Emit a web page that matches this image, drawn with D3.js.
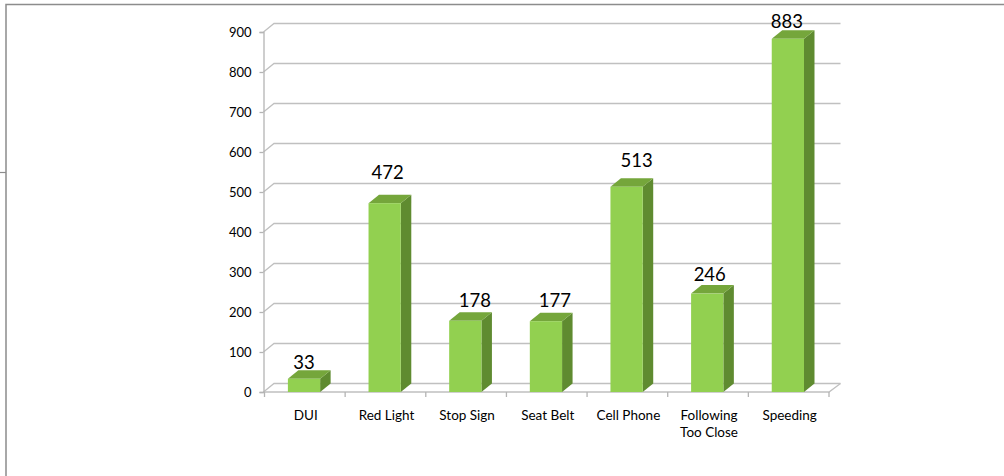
<!DOCTYPE html>
<html>
<head>
<meta charset="utf-8">
<script src="https://cdn.jsdelivr.net/npm/d3@7"></script>
<style>
  html, body { margin: 0; padding: 0; background: #fff; }
  svg { display: block; }
  text { font-family: Lato, "Open Sans", sans-serif; fill: #000; }
</style>
</head>
<body>
<svg id="chart" width="1004" height="476"></svg>
<script>
// ---- data ----
const categories = [["DUI"], ["Red Light"], ["Stop Sign"], ["Seat Belt"], ["Cell Phone"], ["Following", "Too Close"], ["Speeding"]];
const values = [33, 472, 178, 177, 513, 246, 883];
const yTicks = [0, 100, 200, 300, 400, 500, 600, 700, 800, 900];

// ---- layout (label nudges as placed in the original) ----
const labelDx = [0, 3, 9.5, 9, 10, 2.5, -1];
const labelLift = [10, 24.5, 14, 14, 20, 12.6, 11];

const svg = d3.select("#chart");
const depthX = 10.5, depthY = 8.5;
const gridColor = "#c0c0c0";

const y = d3.scaleLinear().domain([0, 900]).range([392, 32]);
const x = d3.scaleBand().domain(d3.range(categories.length)).range([264.5, 829]).padding(0);

// outer chart border
svg.append("path").attr("d", "M6,476 V4.5 H1004").attr("fill", "none").attr("stroke", "#8c8c8c").attr("stroke-width", 1.5);
svg.append("line").attr("x1", 0).attr("x2", 6).attr("y1", 172.5).attr("y2", 172.5).attr("stroke", "#8c8c8c").attr("stroke-width", 1.2);

const x0 = 263.5, xEnd = 829;

// back wall gridlines with diagonal connectors
const grid = svg.append("g").attr("fill", "none").attr("stroke", gridColor).attr("stroke-width", 1.3);
yTicks.forEach(t => {
  const yy = y(t);
  grid.append("path").attr("d", `M${x0},${yy} L${x0 + depthX},${yy - depthY} H${xEnd + depthX + 1}`);
});
// floor front edge and right diagonal
grid.append("path").attr("d", `M${x0},${y(0)} H${xEnd} L${xEnd + depthX + 1},${y(0) - depthY}`);

// y axis
const yAxis = d3.axisLeft(y).tickValues(yTicks).tickSize(4).tickPadding(8);
const gy = svg.append("g").attr("transform", `translate(${x0},0)`).call(yAxis);
gy.select(".domain").attr("stroke", "#b4b4b4").attr("stroke-width", 1.3);
gy.selectAll(".tick line").attr("stroke", "#b4b4b4").attr("stroke-width", 1.3);
gy.selectAll(".tick text").style("font-size", "13px").style("font-family", "Lato, sans-serif").attr("fill", "#000");

// x axis ticks at category boundaries
const bounds = d3.range(categories.length + 1).map(i => i < categories.length ? x(i) : xEnd);
svg.append("g").selectAll("line").data(bounds).join("line")
  .attr("x1", d => d).attr("x2", d => d).attr("y1", y(0)).attr("y2", y(0) + 5)
  .attr("stroke", "#b4b4b4").attr("stroke-width", 1.3);

// category labels
const bw = x.bandwidth();
const catG = svg.append("g");
categories.forEach((lines, i) => {
  const t = catG.append("text").attr("text-anchor", "middle").style("font-size", "13.5px")
    .attr("x", x(i) + bw / 2 + 1).attr("y", 420);
  lines.forEach((l, j) => t.append("tspan").attr("x", x(i) + bw / 2 + 1).attr("dy", j === 0 ? 0 : 17).text(l));
});

// 3D bars
const barOff = 0.29 * bw, barW = 0.40 * bw;
const bars = svg.append("g");
values.forEach((v, i) => {
  const bx = x(i) + barOff, top = y(v), base = y(0);
  // side
  bars.append("path")
    .attr("d", `M${bx + barW},${base} V${top} L${bx + barW + depthX},${top - depthY} V${base - depthY} Z`)
    .attr("fill", "#5f8b30");
  // top
  bars.append("path")
    .attr("d", `M${bx},${top} L${bx + depthX},${top - depthY} H${bx + barW + depthX} L${bx + barW},${top} Z`)
    .attr("fill", "#75a63b");
  // front
  bars.append("rect").attr("x", bx).attr("y", top).attr("width", barW).attr("height", base - top)
    .attr("fill", "#92d050");
  // value label
  svg.append("text").attr("text-anchor", "middle").style("font-size", "18.5px")
    .attr("x", bx + barW / 2 + labelDx[i]).attr("y", top - labelLift[i]).text(v);
});
</script>
</body>
</html>
